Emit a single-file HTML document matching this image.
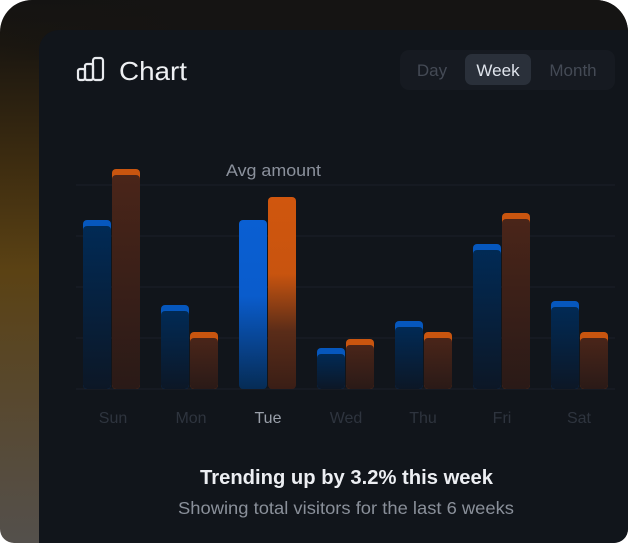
<!DOCTYPE html>
<html><head><style>
html,body{margin:0;padding:0;background:#fff;}
body{width:628px;height:543px;position:relative;overflow:hidden;font-family:"Liberation Sans",sans-serif;}
.outer{position:absolute;left:0;top:0;width:628px;height:543px;border-radius:32px 32px 14px 14px;overflow:hidden;
background:linear-gradient(180deg,#141312 0%,#1a1610 8%,#3d2c10 30%,#5b4214 50%,#574a36 80%,#54504c 100%);}
.top{position:absolute;left:0;top:0;right:0;height:60px;background:linear-gradient(90deg,rgba(20,20,20,0) 0%,#151413 30%,#151413 100%);}
.inner{position:absolute;left:39px;top:30px;width:600px;height:520px;background:#11151b;border-radius:20px 0 0 0;}
</style></head><body>
<div class="outer"><div class="top"></div><div class="inner"></div></div>
<svg width="628" height="543" style="position:absolute;left:0;top:0;z-index:3" xmlns="http://www.w3.org/2000/svg">
<defs>
<linearGradient id="bd" x1="0" y1="0" x2="0" y2="1"><stop offset="0" stop-color="#012a55"/><stop offset="1" stop-color="#0c1726"/></linearGradient>
<linearGradient id="od" x1="0" y1="0" x2="0" y2="1"><stop offset="0" stop-color="#4a2519"/><stop offset="1" stop-color="#2a1a17"/></linearGradient>
<linearGradient id="bb" x1="0" y1="0" x2="0" y2="1"><stop offset="0" stop-color="#0a5fd2"/><stop offset="0.45" stop-color="#0a5ccc"/><stop offset="1" stop-color="#062c55"/></linearGradient>
<linearGradient id="ob" x1="0" y1="0" x2="0" y2="1"><stop offset="0" stop-color="#d0560e"/><stop offset="0.4" stop-color="#c8540f"/><stop offset="0.7" stop-color="#5a2c18"/><stop offset="1" stop-color="#3a1e16"/></linearGradient>
</defs>
<rect x="400" y="50" width="215" height="40" rx="9" fill="#161a21"/>
<rect x="465" y="54" width="66" height="31" rx="7" fill="#2a303a"/>
<text x="432" y="76" font-size="17" fill="#444a55" text-anchor="middle">Day</text>
<text x="498" y="76" font-size="17" fill="#dfe4ec" text-anchor="middle">Week</text>
<text x="573" y="76" font-size="17" fill="#444a55" text-anchor="middle">Month</text>
<g fill="none" stroke="#e8eaee" stroke-width="2.2" stroke-linejoin="round">
<rect x="78" y="69" width="7" height="11" rx="2"/><rect x="85" y="64" width="8" height="16" rx="2"/><rect x="93" y="58" width="10" height="22" rx="2.5"/>
</g>
<text x="119" y="80" font-size="26" fill="#eef0f3" textLength="68" lengthAdjust="spacingAndGlyphs">Chart</text>
<g stroke="#1b2029" stroke-width="1">
<line x1="76" y1="185" x2="615" y2="185"/><line x1="76" y1="236" x2="615" y2="236"/><line x1="76" y1="287" x2="615" y2="287"/><line x1="76" y1="338" x2="615" y2="338"/><line x1="76" y1="389" x2="615" y2="389"/>
</g>
<text x="226" y="176" font-size="17" fill="#8b919c" textLength="95" lengthAdjust="spacingAndGlyphs">Avg amount</text>
<g>
<rect x="83" y="220" width="28" height="169" rx="4" fill="#0657bd"/><rect x="83" y="226" width="28" height="163" rx="4" fill="url(#bd)"/>
<rect x="112" y="169" width="28" height="220" rx="4" fill="#c9550f"/><rect x="112" y="175" width="28" height="214" rx="4" fill="url(#od)"/>
<rect x="161" y="305" width="28" height="84" rx="4" fill="#0657bd"/><rect x="161" y="311" width="28" height="78" rx="4" fill="url(#bd)"/>
<rect x="190" y="332" width="28" height="57" rx="4" fill="#c9550f"/><rect x="190" y="338" width="28" height="51" rx="4" fill="url(#od)"/>
<rect x="239" y="220" width="28" height="169" rx="4" fill="url(#bb)"/>
<rect x="268" y="197" width="28" height="192" rx="4" fill="url(#ob)"/>
<rect x="317" y="348" width="28" height="41" rx="4" fill="#0657bd"/><rect x="317" y="354" width="28" height="35" rx="4" fill="url(#bd)"/>
<rect x="346" y="339" width="28" height="50" rx="4" fill="#c9550f"/><rect x="346" y="345" width="28" height="44" rx="4" fill="url(#od)"/>
<rect x="395" y="321" width="28" height="68" rx="4" fill="#0657bd"/><rect x="395" y="327" width="28" height="62" rx="4" fill="url(#bd)"/>
<rect x="424" y="332" width="28" height="57" rx="4" fill="#c9550f"/><rect x="424" y="338" width="28" height="51" rx="4" fill="url(#od)"/>
<rect x="473" y="244" width="28" height="145" rx="4" fill="#0657bd"/><rect x="473" y="250" width="28" height="139" rx="4" fill="url(#bd)"/>
<rect x="502" y="213" width="28" height="176" rx="4" fill="#c9550f"/><rect x="502" y="219" width="28" height="170" rx="4" fill="url(#od)"/>
<rect x="551" y="301" width="28" height="88" rx="4" fill="#0657bd"/><rect x="551" y="307" width="28" height="82" rx="4" fill="url(#bd)"/>
<rect x="580" y="332" width="28" height="57" rx="4" fill="#c9550f"/><rect x="580" y="338" width="28" height="51" rx="4" fill="url(#od)"/>
</g>
<g font-size="16" fill="#2e343e" text-anchor="middle">
<text x="113" y="423">Sun</text><text x="191" y="423">Mon</text><text x="268" y="423" fill="#9aa0aa">Tue</text><text x="346" y="423">Wed</text><text x="423" y="423">Thu</text><text x="502" y="423">Fri</text><text x="579" y="423">Sat</text>
</g>
<text x="200" y="484" font-size="20" font-weight="bold" fill="#eceef2" textLength="293" lengthAdjust="spacingAndGlyphs">Trending up by 3.2% this week</text>
<text x="178" y="514" font-size="17.5" fill="#8a909a" textLength="336" lengthAdjust="spacingAndGlyphs">Showing total visitors for the last 6 weeks</text>
</svg>
</body></html>
